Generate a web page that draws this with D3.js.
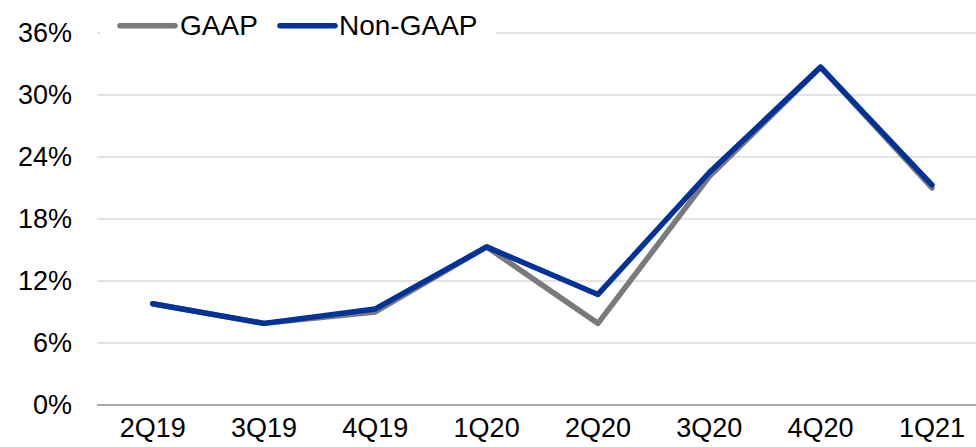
<!DOCTYPE html>
<html>
<head>
<meta charset="utf-8">
<script src="https://cdn.jsdelivr.net/npm/d3@7"></script>
<style>
  html, body { margin: 0; padding: 0; background: #fff; }
  svg { display: block; font-family: "Liberation Sans", Arial, sans-serif; }
</style>
</head>
<body>
<svg id="chart" width="976" height="447"></svg>
<script>
// Quarterly operating margin, GAAP vs Non-GAAP (percent)
const quarters = ["2Q19", "3Q19", "4Q19", "1Q20", "2Q20", "3Q20", "4Q20", "1Q21"];
const gaap     = [9.8, 7.9, 9.0, 15.3, 7.9, 22.1, 32.7, 21.0];
const nonGaap  = [9.8, 7.9, 9.3, 15.3, 10.7, 22.5, 32.7, 21.3];
const yTicks   = [0, 6, 12, 18, 24, 30, 36];
const seriesNames = ["GAAP", "Non-GAAP"];

const colors = { "GAAP": "#7a7a7a", "Non-GAAP": "#003399" };

const svg = d3.select("#chart");

const x = d3.scaleBand().domain(quarters).range([97, 987.6]);
const y = d3.scaleLinear().domain([0, 36]).range([405, 33]);

// horizontal gridlines
svg.append("g")
  .selectAll("line")
  .data(yTicks.filter(t => t > 0))
  .join("line")
  .attr("x1", 97).attr("x2", 976)
  .attr("y1", d => y(d)).attr("y2", d => y(d))
  .attr("stroke", "#d9d9d9").attr("stroke-width", 1.5);

// baseline
svg.append("line")
  .attr("x1", 97).attr("x2", 976)
  .attr("y1", y(0)).attr("y2", y(0))
  .attr("stroke", "#8c8c8c").attr("stroke-width", 1.5);

// y-axis labels
const yAxis = d3.axisLeft(y).tickValues(yTicks).tickFormat(d => d + "%").tickSize(0).tickPadding(0);
const gy = svg.append("g").attr("transform", "translate(72,0)").call(yAxis);
gy.select(".domain").remove();
gy.selectAll("text")
  .attr("font-size", 27).attr("fill", "#000")
  .attr("font-family", "Liberation Sans, Arial, sans-serif");

// x-axis labels
const xAxis = d3.axisBottom(x).tickSize(0).tickPadding(0);
const gx = svg.append("g").attr("transform", "translate(0,418)").call(xAxis);
gx.select(".domain").remove();
gx.selectAll("text")
  .attr("font-size", 27).attr("fill", "#000")
  .attr("font-family", "Liberation Sans, Arial, sans-serif");

// series lines
const line = d3.line()
  .x((d, i) => x(quarters[i]) + x.bandwidth() / 2)
  .y(d => y(d));

[["GAAP", gaap], ["Non-GAAP", nonGaap]].forEach(([name, vals]) => {
  svg.append("path")
    .datum(vals)
    .attr("d", line)
    .attr("fill", "none")
    .attr("stroke", colors[name])
    .attr("stroke-width", 5.5)
    .attr("stroke-linejoin", "round")
    .attr("stroke-linecap", "round");
});

// legend with white backing
svg.append("rect")
  .attr("x", 100).attr("y", 8).attr("width", 396).attr("height", 36)
  .attr("fill", "#fff");

const legendPos = [{ x: 120, tx: 180 }, { x: 280, tx: 339 }];
seriesNames.forEach((name, i) => {
  const p = legendPos[i];
  svg.append("line")
    .attr("x1", p.x).attr("x2", p.x + 55)
    .attr("y1", 25.7).attr("y2", 25.7)
    .attr("stroke", colors[name]).attr("stroke-width", 5.5)
    .attr("stroke-linecap", "round");
  svg.append("text")
    .attr("x", p.tx).attr("y", 35)
    .attr("font-size", 28).attr("fill", "#000")
    .text(name);
});
</script>
</body>
</html>
